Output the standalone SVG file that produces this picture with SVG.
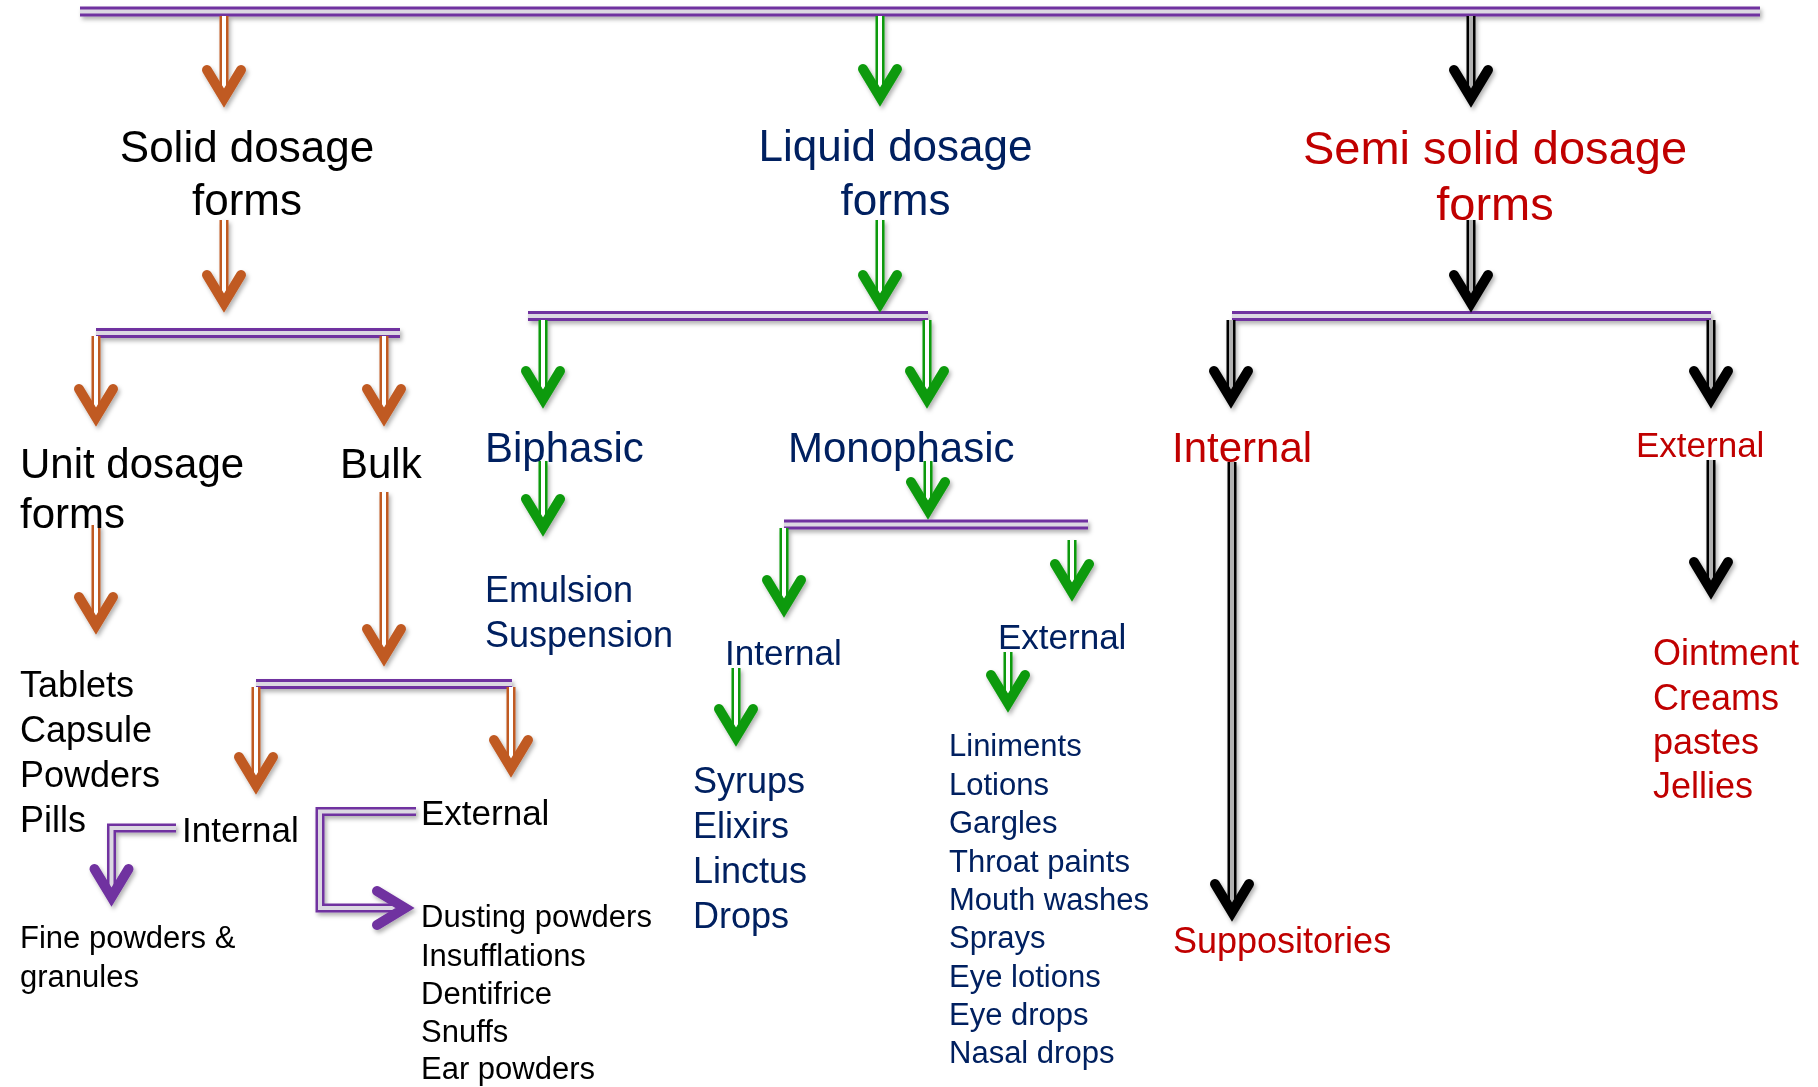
<svg xmlns="http://www.w3.org/2000/svg" width="1818" height="1087" viewBox="0 0 1818 1087">
<defs>
<filter id="shadow" filterUnits="userSpaceOnUse" x="0" y="0" width="1818" height="1087"><feDropShadow dx="2" dy="3" stdDeviation="2" flood-color="#000" flood-opacity="0.3"/></filter>
<path id="chevD" d="M-17,-38 L0,-10 L17,-38"/>
</defs>
<style>
text{font-family:"Liberation Sans",Arial,sans-serif}
.blk{fill:#000}.navy{fill:#002060}.red{fill:#C00000}
.bo{fill:none;stroke:#7030A0;stroke-width:10;stroke-linejoin:miter}
.bi{fill:none;stroke:#dcd8e2;stroke-width:4;stroke-linejoin:miter}
.so{fill:none;stroke-width:9}
.si{fill:none;stroke:#fff;stroke-width:4}
.sg{fill:none;stroke:#b0b0b0;stroke-width:4}
.chev{fill:none;stroke-width:10;stroke-linecap:round;stroke-linejoin:miter}
.or{stroke:#C05A22}.gr{stroke:#0A9A0A}.bk{stroke:#000}.pu{stroke:#7030A0}
.t44{font-size:44px}.t47{font-size:47px}.t42{font-size:42px}.t36{font-size:36px}.t35{font-size:35px}.t31{font-size:31px}
</style>
<rect width="1818" height="1087" fill="#fff"/>
<g id="connectors" filter="url(#shadow)">
<!-- bars -->
<path class="bo" d="M80,11.5H1760"/><path class="bi" d="M80,11.5H1760"/>
<path class="bo" d="M96,333H400"/><path class="bi" d="M96,333H400"/>
<path class="bo" d="M528,316H928"/><path class="bi" d="M528,316H928"/>
<path class="bo" d="M784,524.5H1088"/><path class="bi" d="M784,524.5H1088"/>
<path class="bo" d="M256,684H512"/><path class="bi" d="M256,684H512"/>
<path class="bo" d="M1232,316H1711"/><path class="bi" d="M1232,316H1711"/>
<!-- orange arrows -->
<path class="so or" d="M224,16V96"/><path class="si" d="M224,16V96"/><use href="#chevD" class="chev or" transform="translate(224,108)"/>
<path class="so or" d="M224,220V301"/><path class="si" d="M224,220V301"/><use href="#chevD" class="chev or" transform="translate(224,313)"/>
<path class="so or" d="M96,336V415"/><path class="si" d="M96,336V415"/><use href="#chevD" class="chev or" transform="translate(96,427)"/>
<path class="so or" d="M384,336V415"/><path class="si" d="M384,336V415"/><use href="#chevD" class="chev or" transform="translate(384,427)"/>
<path class="so or" d="M96,525V623"/><path class="si" d="M96,525V623"/><use href="#chevD" class="chev or" transform="translate(96,635)"/>
<path class="so or" d="M384,492V655"/><path class="si" d="M384,492V655"/><use href="#chevD" class="chev or" transform="translate(384,667)"/>
<path class="so or" d="M256,687V783"/><path class="si" d="M256,687V783"/><use href="#chevD" class="chev or" transform="translate(256,795)"/>
<path class="so or" d="M511,687V766"/><path class="si" d="M511,687V766"/><use href="#chevD" class="chev or" transform="translate(511,778)"/>
<!-- green arrows -->
<path class="so gr" d="M880,16V95"/><path class="si" d="M880,16V95"/><use href="#chevD" class="chev gr" transform="translate(880,107)"/>
<path class="so gr" d="M880,220V301"/><path class="si" d="M880,220V301"/><use href="#chevD" class="chev gr" transform="translate(880,313)"/>
<path class="so gr" d="M543,320V397"/><path class="si" d="M543,320V397"/><use href="#chevD" class="chev gr" transform="translate(543,409)"/>
<path class="so gr" d="M927,320V397"/><path class="si" d="M927,320V397"/><use href="#chevD" class="chev gr" transform="translate(927,409)"/>
<path class="so gr" d="M543,461V525"/><path class="si" d="M543,461V525"/><use href="#chevD" class="chev gr" transform="translate(543,537)"/>
<path class="so gr" d="M928,461V508"/><path class="si" d="M928,461V508"/><use href="#chevD" class="chev gr" transform="translate(928,520)"/>
<path class="so gr" d="M784,528V606"/><path class="si" d="M784,528V606"/><use href="#chevD" class="chev gr" transform="translate(784,618)"/>
<path class="so gr" d="M1072,540V590"/><path class="si" d="M1072,540V590"/><use href="#chevD" class="chev gr" transform="translate(1072,602)"/>
<path class="so gr" d="M736,668V735"/><path class="si" d="M736,668V735"/><use href="#chevD" class="chev gr" transform="translate(736,747)"/>
<path class="so gr" d="M1008,652V701"/><path class="si" d="M1008,652V701"/><use href="#chevD" class="chev gr" transform="translate(1008,713)"/>
<!-- black arrows -->
<path class="so bk" d="M1471,16V96"/><path class="sg" d="M1471,16V96"/><use href="#chevD" class="chev bk" transform="translate(1471,108)"/>
<path class="so bk" d="M1471,220V301"/><path class="sg" d="M1471,220V301"/><use href="#chevD" class="chev bk" transform="translate(1471,313)"/>
<path class="so bk" d="M1231,320V397"/><path class="sg" d="M1231,320V397"/><use href="#chevD" class="chev bk" transform="translate(1231,409)"/>
<path class="so bk" d="M1711,320V397"/><path class="sg" d="M1711,320V397"/><use href="#chevD" class="chev bk" transform="translate(1711,409)"/>
<path class="so bk" d="M1232,462V910"/><path class="sg" d="M1232,462V910"/><use href="#chevD" class="chev bk" transform="translate(1232,922)"/>
<path class="so bk" d="M1711,460V588"/><path class="sg" d="M1711,460V588"/><use href="#chevD" class="chev bk" transform="translate(1711,600)"/>
<!-- purple elbow arrows -->
<path class="bo" style="stroke-width:9" d="M176,828H111.5V895"/><path class="bi" d="M176,828H111.5V895"/><use href="#chevD" class="chev pu" transform="translate(111.5,907)"/>
<path class="bo" style="stroke-width:9" d="M416,811.5H320V908H403"/><path class="bi" d="M416,811.5H320V908H403"/><use href="#chevD" class="chev pu" transform="translate(415,908) rotate(-90)"/>
</g>
<g id="n-solid" class="blk t44"><text x="247" y="162" text-anchor="middle">Solid dosage</text><text x="247" y="215" text-anchor="middle">forms</text></g>
<g id="n-liquid" class="navy t44"><text x="895.5" y="161" text-anchor="middle">Liquid dosage</text><text x="895.5" y="215" text-anchor="middle">forms</text></g>
<g id="n-semi" class="red t47"><text x="1495" y="164" text-anchor="middle">Semi solid dosage</text><text x="1495" y="220" text-anchor="middle">forms</text></g>
<g id="n-unit" class="blk t42"><text x="20" y="478">Unit dosage</text><text x="20" y="528">forms</text></g>
<g id="n-bulk" class="blk t42"><text x="340" y="478">Bulk</text></g>
<g id="n-unit-list" class="blk t36"><text x="20" y="697">Tablets</text><text x="20" y="742">Capsule</text><text x="20" y="787">Powders</text><text x="20" y="832">Pills</text></g>
<g id="n-bulk-internal" class="blk t35"><text x="182" y="842">Internal</text></g>
<g id="n-bulk-external" class="blk t35"><text x="421" y="825">External</text></g>
<g id="n-fine" class="blk t31"><text x="20" y="948">Fine powders &amp;</text><text x="20" y="987">granules</text></g>
<g id="n-dusting" class="blk t31"><text x="421" y="927">Dusting powders</text><text x="421" y="966">Insufflations</text><text x="421" y="1004">Dentifrice</text><text x="421" y="1042">Snuffs</text><text x="421" y="1079">Ear powders</text></g>
<g id="n-biphasic" class="navy t42"><text x="485" y="462">Biphasic</text></g>
<g id="n-monophasic" class="navy t42"><text x="788" y="462">Monophasic</text></g>
<g id="n-emulsion" class="navy t36"><text x="485" y="602">Emulsion</text><text x="485" y="647">Suspension</text></g>
<g id="n-mono-internal" class="navy t35"><text x="725" y="665">Internal</text></g>
<g id="n-mono-external" class="navy t35"><text x="998" y="649">External</text></g>
<g id="n-syrups" class="navy t36"><text x="693" y="793">Syrups</text><text x="693" y="838">Elixirs</text><text x="693" y="883">Linctus</text><text x="693" y="928">Drops</text></g>
<g id="n-liniments" class="navy t31"><text x="949" y="756">Liniments</text><text x="949" y="795">Lotions</text><text x="949" y="833">Gargles</text><text x="949" y="872">Throat paints</text><text x="949" y="910">Mouth washes</text><text x="949" y="948">Sprays</text><text x="949" y="987">Eye lotions</text><text x="949" y="1025">Eye drops</text><text x="949" y="1063">Nasal drops</text></g>
<g id="n-semi-internal" class="red t42"><text x="1172" y="462">Internal</text></g>
<g id="n-semi-external" class="red t35"><text x="1636" y="457">External</text></g>
<g id="n-suppositories" class="red t36"><text x="1173" y="953">Suppositories</text></g>
<g id="n-ointment" class="red t36"><text x="1653" y="665">Ointment</text><text x="1653" y="710">Creams</text><text x="1653" y="754">pastes</text><text x="1653" y="798">Jellies</text></g>
</svg>
